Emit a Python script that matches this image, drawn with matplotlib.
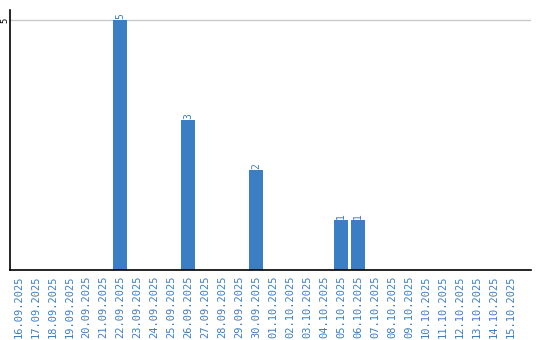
import matplotlib
matplotlib.use('Agg')
import matplotlib.pyplot as plt
import pandas as pd

dates = pd.date_range('2025-09-16', '2025-10-15', freq='D')
labels = [d.strftime('%d.%m.%Y') for d in dates]
counts = {'22.09.2025': 5, '26.09.2025': 3, '30.09.2025': 2,
          '05.10.2025': 1, '06.10.2025': 1}
values = [counts.get(l, 0) for l in labels]

blue = '#3b7ec4'

fig = plt.figure(figsize=(5.4, 3.4), dpi=100)
ax = fig.add_axes([10 / 540, 70 / 340, 521 / 540, 260 / 340])

x = range(len(labels))
bars = ax.bar(x, values, width=0.82, color=blue, zorder=2)
for b, v in zip(bars, values):
    if v > 0:
        ax.annotate(str(v), (b.get_x() + b.get_width() / 2, v),
                    xytext=(0, 1), textcoords='offset points',
                    ha='center', va='bottom', rotation=90,
                    color=blue, fontsize=7, family='DejaVu Sans Mono')

ax.set_xlim(-0.5, 30.18)
ax.set_ylim(0, 5.2)
ax.set_yticks([5])
ax.set_yticklabels(['5'], rotation=90, va='center', fontsize=6.5,
                   family='DejaVu Sans Mono')
ax.yaxis.grid(True, color='#c8c8c8', linewidth=1, zorder=0)
ax.tick_params(axis='y', length=0, pad=0.5)

ax.set_xticks(list(x))
ax.set_xticklabels(labels, rotation=90, fontsize=7.5, color=blue,
                   family='DejaVu Sans Mono')
ax.tick_params(axis='x', length=0, pad=4)

for s in ['top', 'right']:
    ax.spines[s].set_visible(False)
ax.spines['left'].set_linewidth(1.2)
ax.spines['bottom'].set_linewidth(1.2)

fig.savefig('out.png', dpi=100)
